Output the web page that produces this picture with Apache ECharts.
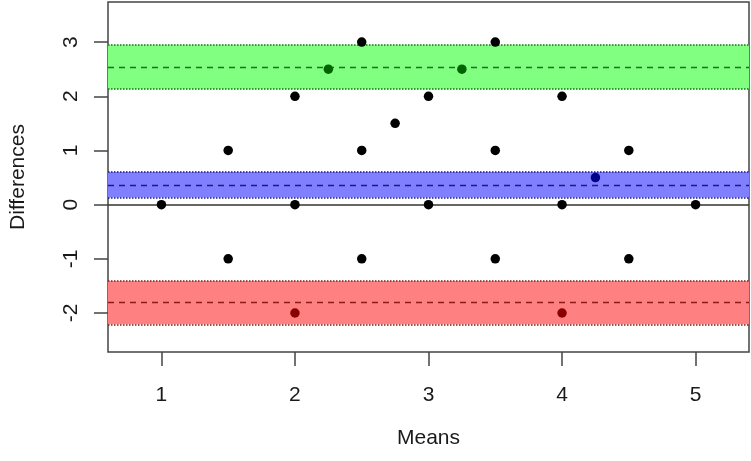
<!DOCTYPE html>
<html>
<head>
<meta charset="utf-8">
<script src="https://cdn.jsdelivr.net/npm/echarts@6/dist/echarts.min.js"></script>
<style>
  html, body { margin: 0; padding: 0; background: #fff; }
  #chart { width: 751px; height: 461px; }
</style>
</head>
<body>
<div id="chart"></div>
<script>
// points (mean, difference)
const blackPts = [[1,0],[1.5,1],[1.5,-1],[2,2],[2,0],[2.5,3],[2.5,1],[2.5,-1],[2.75,1.5],
  [3,2],[3,0],[3.5,3],[3.5,1],[3.5,-1],[4,2],[4,0],[4.5,1],[4.5,-1],[5,0]]
const greenPts = [[2.25,2.5],[3.25,2.5]]
const bluePts = [[4.25,0.5]]
const redPts = [[2,-2],[4,-2]]

// limits: [lower ci, line, upper ci]
const upperLoA = [2.13, 2.53, 2.95]
const meanDiff = [0.13, 0.36, 0.60]
const lowerLoA = [-2.21, -1.80, -1.41]

const xTicks = [1, 2, 3, 4, 5]
const yTicks = [-2, -1, 0, 1, 2, 3]

const font = 'Liberation Sans, Arial, sans-serif'

const chart = echarts.init(document.getElementById('chart'))

// band helper: filled area, dotted edges, dashed centre line
const band = (vals, fill, edge) => ({
  type: 'line',
  data: [],
  z: 1,
  silent: true,
  markArea: {
    silent: true,
    itemStyle: { color: fill, opacity: 1 },
    data: [[{ yAxis: vals[0] }, { yAxis: vals[2] }]]
  },
  markLine: {
    silent: true,
    symbol: 'none',
    label: { show: false },
    data: [
      { yAxis: vals[0], lineStyle: { type: 'dotted', color: edge, width: 1.5 } },
      { yAxis: vals[2], lineStyle: { type: 'dotted', color: edge, width: 1.5 } },
      { yAxis: vals[1], lineStyle: { type: [6, 5], color: edge, width: 1.3 } }
    ]
  }
})

const dots = (data, color) => ({
  type: 'scatter',
  data: data,
  symbolSize: 9.5,
  z: 5,
  itemStyle: { color: color, opacity: 1 }
})

const option = {
  animation: false,
  grid: {
    left: 107, right: 2, top: 2, bottom: 109,
    show: true, borderColor: '#444', borderWidth: 1.5, backgroundColor: '#fff'
  },
  xAxis: {
    type: 'value',
    min: 0.6, max: 5.4,
    name: 'Means',
    nameLocation: 'middle',
    nameGap: 76,
    nameTextStyle: { fontFamily: font, fontSize: 21, color: '#1a1a1a' },
    axisLine: { show: false, onZero: false },
    splitLine: { show: false },
    axisTick: { show: true, length: 14, customValues: xTicks, lineStyle: { color: '#444', width: 1.5 } },
    axisLabel: { customValues: xTicks, margin: 33, fontFamily: font, fontSize: 21, color: '#1a1a1a' }
  },
  yAxis: {
    type: 'value',
    min: -2.72, max: 3.74,
    name: 'Differences',
    nameLocation: 'middle',
    nameGap: 79,
    nameTextStyle: { fontFamily: font, fontSize: 21, color: '#1a1a1a' },
    axisLine: { show: false, onZero: false },
    splitLine: { show: false },
    axisTick: { show: true, length: 14, customValues: yTicks, lineStyle: { color: '#444', width: 1.5 } },
    axisLabel: { customValues: yTicks, rotate: 90, margin: 26, fontFamily: font, fontSize: 21, color: '#1a1a1a' }
  },
  series: [
    band(upperLoA, '#80ff80', '#1f6f1f'),
    band(meanDiff, '#8080ff', '#1a1a80'),
    band(lowerLoA, '#ff8080', '#8b1a1a'),
    {
      type: 'line',
      data: [],
      z: 2,
      markLine: {
        silent: true,
        symbol: 'none',
        label: { show: false },
        data: [{ yAxis: 0, lineStyle: { type: 'solid', color: '#333', width: 1.5 } }]
      }
    },
    dots(blackPts, '#000000'),
    dots(greenPts, '#006400'),
    dots(bluePts, '#00008b'),
    dots(redPts, '#8b0000')
  ]
}

chart.setOption(option)
</script>
</body>
</html>
